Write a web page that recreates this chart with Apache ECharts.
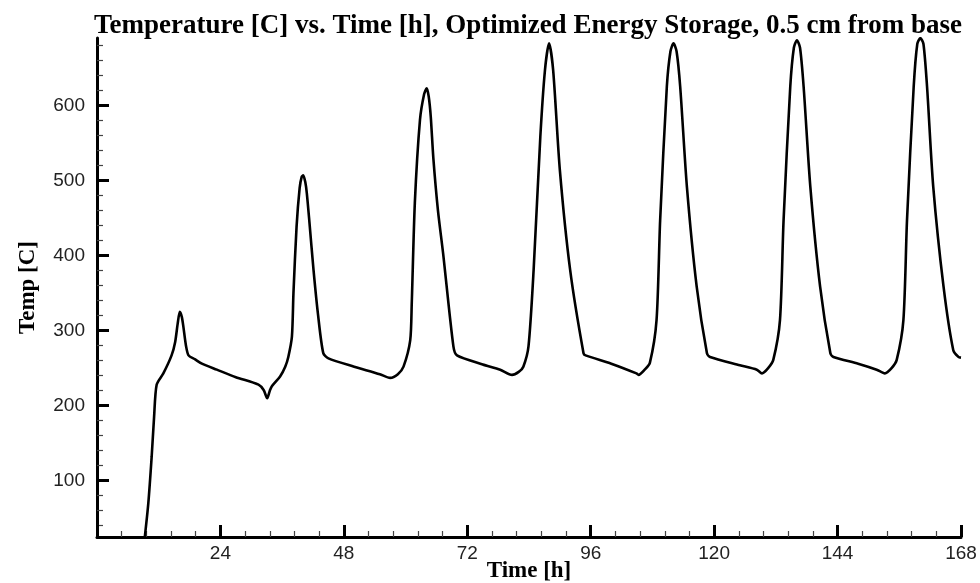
<!DOCTYPE html>
<html>
<head>
<meta charset="utf-8">
<script src="https://cdn.jsdelivr.net/npm/echarts@6/dist/echarts.min.js"></script>
<style>html,body{margin:0;padding:0;background:#fff}#c{width:980px;height:583px}</style>
</head>
<body>
<div id="c"></div>
<script>
var timeH = [9.3,9.98,10.63,11.1,11.6,12.9,14.5,15.2,15.7,16.1,16.5,16.8,17.3,17.8,19.0,20.4,23.3,27.0,31.4,32.4,33.1,33.6,34.0,35.6,36.6,37.2,37.9,38.2,38.8,39.4,39.8,40.1,40.5,40.8,41.3,42.1,43.0,44.0,45.0,50.0,55.0,57.0,58.5,59.6,60.9,61.2,61.8,62.8,63.6,64.1,64.5,64.9,65.4,66.3,67.3,69.3,70.0,75.0,78.4,80.7,82.0,82.9,83.9,84.9,86.2,87.1,87.9,88.7,90.0,92.0,94.6,95.0,100.0,104.9,105.3,106.5,107.5,108.8,109.5,110.8,111.5,112.1,112.7,113.4,114.7,116.6,118.6,119.2,125.0,128.3,129.3,130.5,131.5,132.8,133.5,134.8,135.5,136.1,136.7,137.4,138.7,140.6,142.6,143.2,148.0,151.6,153.2,154.5,155.5,156.8,157.5,158.8,159.5,160.1,160.7,161.4,162.6,164.6,166.5,167.5,168.0];
var tempC = [25,70,132,185,228,243,267,285,310,325,318,305,280,267,262,256,248,238,228,221,210,220,226,239,252,265,292,350,438,490,505,507,498,483,445,381,320,270,263,252,242,237,242,252,287,336,470,581,615,623,612,585,530,460,403,279,267,255,248,241,245,252,279,381,558,647,683,647,514,381,270,267,256,243,241,248,257,314,447,625,672,683,672,625,492,359,270,265,254,248,243,250,261,314,447,625,677,687,677,625,492,359,270,265,256,248,243,250,261,314,447,625,682,690,682,625,492,359,274,265,264];
var xTicks = [24,48,72,96,120,144,168];
var yTicks = [100,200,300,400,500,600];
var yMinor = [40,60,80,120,140,160,180,220,240,260,280,320,340,360,380,420,440,460,480,520,540,560,580,620,640,660,680];

var pts = timeH.map(function(t,i){return [t,tempC[i]];});
var chart = echarts.init(document.getElementById('c'));
var axisFont = {fontFamily:'Liberation Sans, Arial', fontSize:19, color:'#222'};
var nameFont = {fontFamily:'Liberation Serif, Times New Roman', fontWeight:'bold', fontSize:23, color:'#000', verticalAlign:'middle', align:'center'};
chart.setOption({
  animation:false,
  backgroundColor:'#fff',
  title:{
    text:'Temperature [C] vs. Time [h], Optimized Energy Storage, 0.5 cm from base',
    left:523, top:8, textAlign:'center',
    textStyle:{fontFamily:'Liberation Serif, Times New Roman', fontWeight:'bold', fontSize:27, color:'#000'}
  },
  grid:{left:97, right:19, top:38, bottom:46, outerBoundsMode:'none', containLabel:false},
  xAxis:{
    type:'value', min:0, max:168, interval:24,
    name:'Time [h]', nameLocation:'middle', nameGap:34, nameMoveOverlap:false,
    nameTextStyle:nameFont,
    axisLine:{show:true, onZero:false, lineStyle:{color:'#000', width:3}},
    axisTick:{show:true, inside:true, length:12, lineStyle:{color:'#000', width:3}},
    minorTick:{show:true, splitNumber:5, length:6, lineStyle:{color:'#444', width:1.2}},
    axisLabel:Object.assign({showMinLabel:false, margin:7}, axisFont),
    splitLine:{show:false}
  },
  yAxis:[{
    type:'value', min:25, max:690,
    name:'Temp [C]', nameLocation:'middle', nameGap:69, nameRotate:90, nameMoveOverlap:false,
    nameTextStyle:nameFont,
    axisLine:{show:true, onZero:false, lineStyle:{color:'#000', width:3}},
    axisTick:{show:true, inside:true, length:12, customValues:yTicks, lineStyle:{color:'#000', width:3}},
    axisLabel:Object.assign({customValues:yTicks, margin:12}, axisFont),
    splitLine:{show:false}
  },{
    type:'value', min:25, max:690, position:'left',
    axisLine:{show:false},
    axisTick:{show:true, inside:true, length:6, customValues:yMinor, lineStyle:{color:'#444', width:1.2}},
    axisLabel:{show:false},
    splitLine:{show:false}
  }],
  series:[{
    type:'line', data:pts, showSymbol:false, smooth:0.25,
    lineStyle:{color:'#000', width:2.6}, clip:true
  }]
});
</script>
</body>
</html>
